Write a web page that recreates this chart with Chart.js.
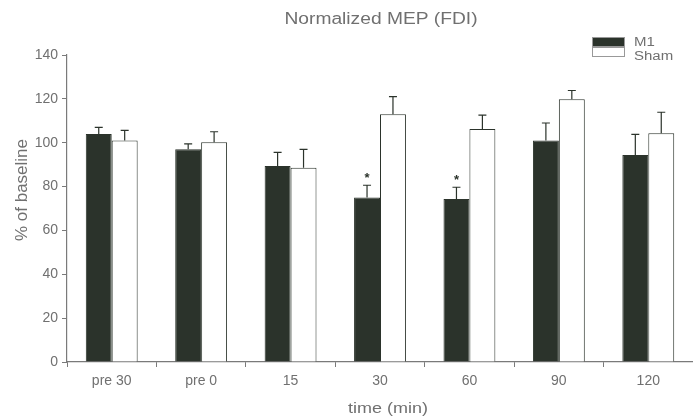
<!DOCTYPE html>
<html>
<head>
<meta charset="utf-8">
<script src="https://cdn.jsdelivr.net/npm/chart.js@4.4.1/dist/chart.umd.min.js"></script>
<style>
  html, body { margin: 0; padding: 0; background: #fff; }
  #wrap { width: 693px; height: 418px; }
</style>
</head>
<body>
<div id="wrap"><canvas id="mepChart"></canvas></div>
<script>
// data
const timePoints = ['pre 30', 'pre 0', '15', '30', '60', '90', '120'];
const m1Values = [104, 97, 89.4, 75, 74.3, 101, 94.4];
const m1Errors = [3, 2.5, 6.2, 5.6, 5.4, 8, 9.4];
const shamValues = [101, 100.2, 88.6, 113, 106.2, 119.8, 104.3];
const shamErrors = [4.6, 4.8, 8.4, 8, 6.4, 4, 9.6];
const m1Significant = [false, false, false, true, true, false, false];
const yTicks = [0, 20, 40, 60, 80, 100, 120, 140];

const inkColor = '#2b332b';
const textColor = '#707070';
const axisColor = '#7a7a7a';

// stretched text, the scanned figure is wider than tall
function wideText(ctx, text, x, y, size, align) {
    ctx.save();
    ctx.translate(x, y);
    ctx.scale(1.2, 1);
    ctx.font = size + 'px "Liberation Sans", Arial, sans-serif';
    ctx.fillStyle = textColor;
    ctx.textAlign = align || 'center';
    ctx.textBaseline = 'middle';
    ctx.fillText(text, 0, 0);
    ctx.restore();
}

const errorBarPlugin = {
    id: 'errorBars',
    afterDatasetsDraw(chart) {
        const ctx = chart.ctx;
        const yScale = chart.scales.y;
        const errs = [m1Errors, shamErrors];
        chart.data.datasets.forEach((ds, di) => {
            const meta = chart.getDatasetMeta(di);
            meta.data.forEach((bar, i) => {
                const top = yScale.getPixelForValue(ds.data[i] + errs[di][i]);
                ctx.save();
                ctx.strokeStyle = inkColor;
                ctx.lineWidth = 1.2;
                ctx.beginPath();
                ctx.moveTo(bar.x, bar.y);
                ctx.lineTo(bar.x, top);
                ctx.moveTo(bar.x - 4, top);
                ctx.lineTo(bar.x + 4, top);
                ctx.stroke();
                if (di === 0 && m1Significant[i]) {
                    ctx.fillStyle = inkColor;
                    ctx.font = 'bold 13px "Liberation Sans", Arial, sans-serif';
                    ctx.textAlign = 'center';
                    ctx.textBaseline = 'middle';
                    ctx.fillText('*', bar.x, top - 7);
                }
                ctx.restore();
            });
        });
    }
};

const labelsPlugin = {
    id: 'figureLabels',
    afterDraw(chart) {
        const ctx = chart.ctx;
        wideText(ctx, 'Normalized MEP (FDI)', 381, 20, 16);
        wideText(ctx, 'time (min)', 388, 409, 15);

        ctx.save();
        ctx.translate(22, 190);
        ctx.rotate(-Math.PI / 2);
        ctx.font = '17px "Liberation Sans", Arial, sans-serif';
        ctx.fillStyle = textColor;
        ctx.textAlign = 'center';
        ctx.textBaseline = 'middle';
        ctx.fillText('% of baseline', 0, 0);
        ctx.restore();

        // legend, two stacked swatches
        chart.data.datasets.forEach((ds, i) => {
            const y = 37 + i * 10;
            ctx.save();
            ctx.fillStyle = ds.backgroundColor;
            ctx.strokeStyle = '#999';
            ctx.lineWidth = 1;
            ctx.fillRect(592, y, 33, 10);
            ctx.strokeRect(592.5, y + 0.5, 32, 9);
            ctx.restore();
            wideText(ctx, ds.label, 634, 43 + i * 14, 12.5, 'left');
        });
    }
};

new Chart(document.getElementById('mepChart'), {
    type: 'bar',
    data: {
        labels: timePoints,
        datasets: [{
            label: 'M1',
            data: m1Values,
            backgroundColor: inkColor,
            borderColor: inkColor,
            borderWidth: 1,
            categoryPercentage: 0.58,
            barPercentage: 1
        }, {
            label: 'Sham',
            data: shamValues,
            backgroundColor: '#ffffff',
            borderColor: inkColor,
            borderWidth: 1,
            categoryPercentage: 0.58,
            barPercentage: 1
        }]
    },
    options: {
        responsive: true,
        maintainAspectRatio: false,
        animation: false,
        layout: { padding: { top: 55, right: 0, bottom: 0, left: 0 } },
        plugins: {
            legend: { display: false },
            title: { display: false },
            tooltip: { enabled: false }
        },
        scales: {
            x: {
                afterFit(scale) { scale.height = 56; },
                grid: {
                    offset: true,
                    drawOnChartArea: false,
                    tickLength: 5,
                    color: axisColor
                },
                border: { color: axisColor, width: 1.2 },
                ticks: {
                    color: textColor,
                    padding: 6,
                    font: { family: '"Liberation Sans", Arial, sans-serif', size: 14 }
                }
            },
            y: {
                min: 0,
                max: 140,
                afterFit(scale) { scale.width = 67; },
                afterBuildTicks(scale) { scale.ticks = yTicks.map(v => ({ value: v })); },
                grid: {
                    drawOnChartArea: false,
                    tickLength: 5,
                    color: axisColor
                },
                border: { color: axisColor, width: 1.2 },
                ticks: {
                    color: textColor,
                    padding: 4,
                    font: { family: '"Liberation Sans", Arial, sans-serif', size: 14 }
                }
            }
        }
    },
    plugins: [errorBarPlugin, labelsPlugin]
});
</script>
</body>
</html>
